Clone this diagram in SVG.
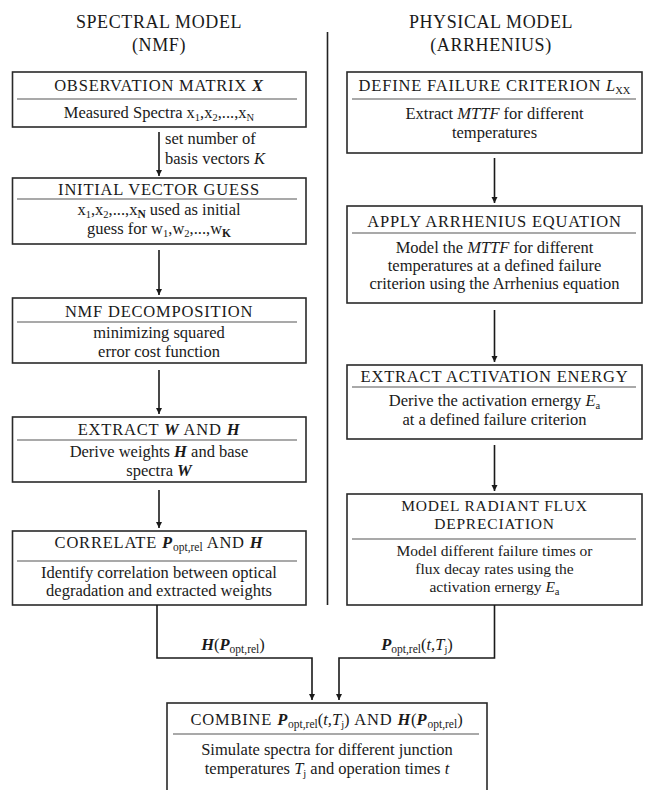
<svg xmlns="http://www.w3.org/2000/svg" width="646" height="790" viewBox="0 0 646 790">
<defs>
<marker id="ah" viewBox="0 0 10 10" refX="10" refY="5" markerWidth="6" markerHeight="8" markerUnits="userSpaceOnUse" orient="auto">
<path d="M0,0 L10,5 L0,10 z" fill="#1a1a1a"/>
</marker>
<style>
text{font-family:"Liberation Serif","Times New Roman",serif;fill:#1a1a1a;}
.title{font-size:18px;text-anchor:middle;letter-spacing:0.6px;}
.h{font-size:16.5px;text-anchor:middle;letter-spacing:0.8px;}
.t{font-size:16.5px;text-anchor:middle;}
.lb{font-size:16.5px;}
.bi{font-weight:bold;font-style:italic;}
.i{font-style:italic;}
.s{font-size:10.5px;letter-spacing:0;font-weight:normal;font-style:normal;}
.sm{font-size:15.5px;}
.box{fill:#fff;stroke:#2a2a2a;stroke-width:1.6;}
.sep{stroke:#555;stroke-width:1.2;}
.conn{fill:none;stroke:#1a1a1a;stroke-width:1.6;}
</style>
</defs>
<rect width="646" height="790" fill="#fff"/>

<g id="titles">
<text class="title" x="159" y="28">SPECTRAL MODEL</text>
<text class="title" x="159" y="51">(NMF)</text>
<text class="title" x="491" y="28">PHYSICAL MODEL</text>
<text class="title" x="491" y="51">(ARRHENIUS)</text>
<line x1="327.5" y1="32" x2="327.5" y2="605" stroke="#222" stroke-width="1.6"/>
</g>

<g id="observation">
<rect class="box" x="12.5" y="72" width="293.5" height="55"/>
<text class="h" x="159" y="91">OBSERVATION MATRIX <tspan class="bi">X</tspan></text>
<line class="sep" x1="17" y1="99" x2="297" y2="99"/>
<text class="t" x="159" y="118">Measured Spectra x<tspan class="s" dy="3">1</tspan><tspan dy="-3">,x</tspan><tspan class="s" dy="3">2</tspan><tspan dy="-3">,...,x</tspan><tspan class="s" dy="3">N</tspan></text>
</g>

<g id="initial">
<rect class="box" x="12.5" y="178" width="293.5" height="66"/>
<text class="h" x="159" y="195">INITIAL VECTOR GUESS</text>
<line class="sep" x1="17" y1="199" x2="297" y2="199"/>
<text class="t" x="159" y="215">x<tspan class="s" dy="3">1</tspan><tspan dy="-3">,x</tspan><tspan class="s" dy="3">2</tspan><tspan dy="-3">,...,x</tspan><tspan class="s" style="font-size:11.5px;font-weight:bold" dy="3">N</tspan><tspan dy="-3"> used as initial</tspan></text>
<text class="t" x="159" y="234">guess for w<tspan class="s" dy="3">1</tspan><tspan dy="-3">,w</tspan><tspan class="s" dy="3">2</tspan><tspan dy="-3">,...,w</tspan><tspan class="s" style="font-size:11.5px;font-weight:bold" dy="3">K</tspan></text>
</g>

<g id="nmf">
<rect class="box" x="12.5" y="298" width="293.5" height="65"/>
<text class="h" x="159" y="317">NMF DECOMPOSITION</text>
<line class="sep" x1="17" y1="322" x2="297" y2="322"/>
<text class="t" x="159" y="338">minimizing squared</text>
<text class="t" x="159" y="357">error cost function</text>
</g>

<g id="extract">
<rect class="box" x="12.5" y="417" width="293.5" height="65"/>
<text class="h" x="159" y="435">EXTRACT <tspan class="bi">W</tspan> AND <tspan class="bi">H</tspan></text>
<line class="sep" x1="17" y1="440" x2="297" y2="440"/>
<text class="t" x="159" y="457">Derive weights <tspan class="bi">H</tspan> and base</text>
<text class="t" x="159" y="476">spectra <tspan class="bi">W</tspan></text>
</g>

<g id="correlate">
<rect class="box" x="12.5" y="531" width="293.5" height="74"/>
<text class="h" x="159" y="548">CORRELATE <tspan class="bi">P</tspan><tspan class="s" style="font-size:11.5px" dy="3">opt,rel</tspan><tspan dy="-3"> AND </tspan><tspan class="bi">H</tspan></text>
<line class="sep" x1="17" y1="561" x2="297" y2="561"/>
<text class="t" x="159" y="578">Identify correlation between optical</text>
<text class="t" x="159" y="596">degradation and extracted weights</text>
</g>

<g id="failure">
<rect class="box" x="347" y="72" width="295" height="81"/>
<text class="h" x="494.5" y="91">DEFINE FAILURE CRITERION <tspan class="i" style="letter-spacing:0">L</tspan><tspan class="s" dy="3">XX</tspan></text>
<line class="sep" x1="352" y1="99" x2="636" y2="99"/>
<text class="t" x="494.5" y="119">Extract <tspan class="i">MTTF</tspan> for different</text>
<text class="t" x="494.5" y="138">temperatures</text>
</g>

<g id="arrhenius">
<rect class="box" x="347" y="206" width="295" height="97"/>
<text class="h" x="494.5" y="227">APPLY ARRHENIUS EQUATION</text>
<line class="sep" x1="352" y1="233" x2="636" y2="233"/>
<text class="t" x="494.5" y="253">Model the <tspan class="i">MTTF</tspan> for different</text>
<text class="t" x="494.5" y="271">temperatures at a defined failure</text>
<text class="t" x="494.5" y="289">criterion using the Arrhenius equation</text>
</g>

<g id="activation">
<rect class="box" x="347" y="365" width="295" height="74"/>
<text class="h" x="494.5" y="382">EXTRACT ACTIVATION ENERGY</text>
<line class="sep" x1="352" y1="387" x2="636" y2="387"/>
<text class="t" x="494.5" y="406">Derive the activation ernergy <tspan class="i">E</tspan><tspan class="s" dy="3">a</tspan></text>
<text class="t" x="494.5" y="425">at a defined failure criterion</text>
</g>

<g id="radiant">
<rect class="box" x="347" y="494" width="295" height="111"/>
<text class="h sm" x="494.5" y="511">MODEL RADIANT FLUX</text>
<text class="h sm" x="494.5" y="529">DEPRECIATION</text>
<line class="sep" x1="352" y1="539" x2="636" y2="539"/>
<text class="t sm" x="494.5" y="556">Model different failure times or</text>
<text class="t sm" x="494.5" y="574">flux decay rates using the</text>
<text class="t sm" x="494.5" y="592">activation ernergy <tspan class="i">E</tspan><tspan class="s" dy="3">a</tspan></text>
</g>

<g id="combine">
<rect class="box" x="167" y="703" width="320" height="100"/>
<text class="h" x="327" y="725">COMBINE <tspan class="bi">P</tspan><tspan class="s" style="font-size:11.5px" dy="3">opt,rel</tspan><tspan dy="-3" style="letter-spacing:0">(</tspan><tspan class="i" style="letter-spacing:0">t,T</tspan><tspan class="s" dy="3">j</tspan><tspan dy="-3">) AND </tspan><tspan class="bi">H</tspan><tspan style="letter-spacing:0">(</tspan><tspan class="bi">P</tspan><tspan class="s" style="font-size:11.5px" dy="3">opt,rel</tspan><tspan dy="-3">)</tspan></text>
<line class="sep" x1="173" y1="734" x2="479" y2="734"/>
<text class="t" x="327" y="755">Simulate spectra for different junction</text>
<text class="t" x="327" y="774">temperatures <tspan class="i">T</tspan><tspan class="s" dy="3">j</tspan><tspan dy="-3"> and operation times </tspan><tspan class="i">t</tspan></text>
</g>

<g id="connectors">
<line class="conn" x1="159" y1="132" x2="159" y2="176" marker-end="url(#ah)"/>
<line class="conn" x1="159" y1="250" x2="159" y2="295" marker-end="url(#ah)"/>
<line class="conn" x1="159" y1="370" x2="159" y2="414" marker-end="url(#ah)"/>
<line class="conn" x1="159" y1="490" x2="159" y2="528" marker-end="url(#ah)"/>
<line class="conn" x1="494.5" y1="158" x2="494.5" y2="203" marker-end="url(#ah)"/>
<line class="conn" x1="494.5" y1="310" x2="494.5" y2="362" marker-end="url(#ah)"/>
<line class="conn" x1="494.5" y1="445" x2="494.5" y2="491" marker-end="url(#ah)"/>
<path class="conn" d="M157 605 V658 H312 V700" marker-end="url(#ah)"/>
<path class="conn" d="M494.5 605 V658 H339 V700" marker-end="url(#ah)"/>
<text class="lb" x="165" y="144">set number of</text>
<text class="lb" x="165" y="164">basis vectors <tspan class="i">K</tspan></text>
<text class="t" x="233" y="650"><tspan class="bi">H</tspan>(<tspan class="bi">P</tspan><tspan class="s" style="font-size:11.5px" dy="3">opt,rel</tspan><tspan dy="-3">)</tspan></text>
<text class="t" x="417" y="650"><tspan class="bi">P</tspan><tspan class="s" style="font-size:11.5px" dy="3">opt,rel</tspan><tspan dy="-3">(</tspan><tspan class="i">t,T</tspan><tspan class="s" dy="3">j</tspan><tspan dy="-3">)</tspan></text>
</g>
</svg>
